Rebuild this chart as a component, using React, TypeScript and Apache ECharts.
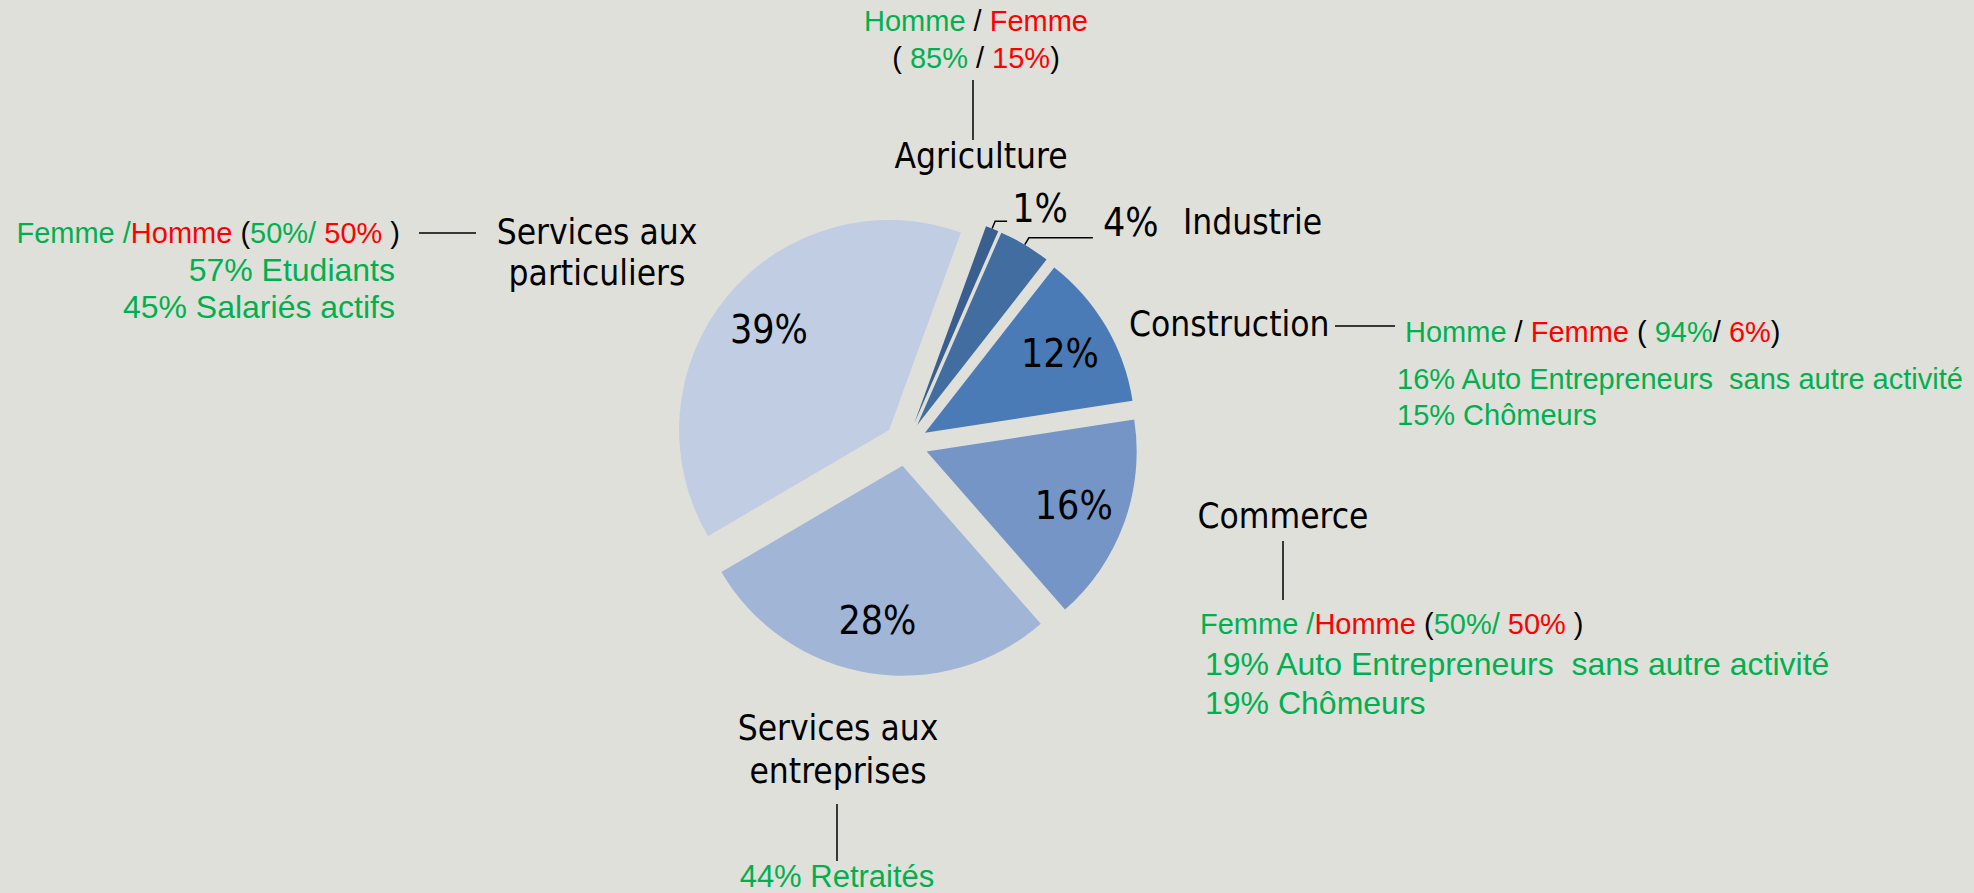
import React, { useEffect, useRef } from 'react';
import * as echarts from 'echarts';

// ---- data ----
const categories = [
  'Agriculture',
  'Industrie',
  'Construction',
  'Commerce',
  'Services aux entreprises',
  'Services aux particuliers',
];
const shares = [1, 4, 12, 16, 28, 39];
const outsideLabelled = [true, true, false, false, false, false];

// ---- styles ----
const palette = ['#3a5e8e', '#426da0', '#4a7bb6', '#7495c6', '#a1b5d7', '#c1cde2'];
const GREEN = '#00b050';
const RED = '#ff0000';
const BLACK = '#000000';
const ARIAL = '"Liberation Sans", Arial, sans-serif';
const TAHOMA = '"DejaVu Sans Condensed", "DejaVu Sans", sans-serif';

const rich = (size: number) => ({
  g: { fill: GREEN, fontSize: size, fontFamily: ARIAL },
  r: { fill: RED, fontSize: size, fontFamily: ARIAL },
  k: { fill: BLACK, fontSize: size, fontFamily: ARIAL },
});

function note(text: string, x: number, y: number, size: number, align: string) {
  return {
    type: 'text',
    x,
    y,
    silent: true,
    style: {
      text,
      fontSize: size,
      fontFamily: ARIAL,
      fill: BLACK,
      align,
      verticalAlign: 'middle',
      rich: rich(size),
    },
  };
}

function title(text: string, x: number, y: number, align: string) {
  return {
    type: 'text',
    x,
    y,
    silent: true,
    style: {
      text,
      fontSize: 35,
      fontFamily: TAHOMA,
      fill: BLACK,
      align,
      verticalAlign: 'middle',
    },
  };
}

function rule(x1: number, y1: number, x2: number, y2: number) {
  return {
    type: 'line',
    silent: true,
    shape: { x1, y1, x2, y2 },
    style: { stroke: BLACK, lineWidth: 1.5 },
  };
}

export default function App() {
  const ref = useRef<HTMLDivElement>(null);

  useEffect(() => {
    if (!ref.current) return;
    const chart = echarts.init(ref.current, undefined, { renderer: 'svg' });

    const baseSeries = {
      type: 'pie',
      center: [906, 444],
      startAngle: 70,
      clockwise: true,
      selectedMode: 'multiple',
      selectedOffset: 22,
      avoidLabelOverlap: false,
      emphasis: { disabled: true },
    };

    chart.setOption({
      animation: false,
      backgroundColor: '#e0e0da',
      series: [
        {
          ...baseSeries,
          radius: [0, 210],
          label: { show: false },
          labelLine: { show: false },
          itemStyle: { borderWidth: 0 },
          data: categories.map((name, i) => ({
            name,
            value: shares[i],
            selected: true,
            itemStyle: { color: palette[i] },
          })),
        },
        {
          ...baseSeries,
          radius: [97, 210],
          z: 3,
          itemStyle: { color: 'rgba(0,0,0,0)', borderWidth: 0 },
          label: {
            show: true,
            position: 'inside',
            formatter: '{c}%',
            fontSize: 39,
            fontFamily: TAHOMA,
            color: BLACK,
          },
          labelLine: { show: false },
          data: categories.map((name, i) => {
            const item: any = { name, value: shares[i], selected: true };
            if (outsideLabelled[i]) {
              item.label = {
                position: 'outside',
                formatter: '{c}%\n ',
                lineHeight: i === 0 ? 26 : 30,
                distanceToLabelLine: i === 0 ? 5 : 10,
              };
              item.labelLine = {
                show: true,
                length: 8,
                length2: i === 0 ? 12 : 64,
                smooth: false,
                lineStyle: { color: BLACK, width: 1.5 },
              };
            }
            return item;
          }),
        },
      ],
      graphic: [
        // Agriculture
        note('{g|Homme} / {r|Femme}', 976, 21, 29, 'center'),
        note('( {g|85%} / {r|15%})', 976, 58, 29, 'center'),
        rule(973, 80, 973, 140),
        title('Agriculture', 981, 156, 'center'),
        // Industrie
        title('Industrie', 1183, 222, 'left'),
        // Services aux particuliers
        note('{g|Femme /}{r|Homme} ({g|50%/} {r|50%} )', 400, 233, 29, 'right'),
        note('{g|57% Etudiants}', 395, 270, 32, 'right'),
        note('{g|45% Salariés actifs}', 395, 307, 32, 'right'),
        rule(419, 233, 476, 233),
        title('Services aux', 597, 232, 'center'),
        title('particuliers', 597, 273, 'center'),
        // Construction
        title('Construction', 1129, 324, 'left'),
        rule(1335, 326, 1395, 326),
        note('{g|Homme} / {r|Femme} ( {g|94%}/ {r|6%})', 1405, 332, 29, 'left'),
        note('{g|16% Auto Entrepreneurs  sans autre activité}', 1397, 379, 29, 'left'),
        note('{g|15% Chômeurs}', 1397, 415, 29, 'left'),
        // Commerce
        title('Commerce', 1283, 516, 'center'),
        rule(1283, 541, 1283, 600),
        note('{g|Femme /}{r|Homme} ({g|50%/} {r|50%} )', 1200, 624, 29, 'left'),
        note('{g|19% Auto Entrepreneurs  sans autre activité}', 1205, 664, 32, 'left'),
        note('{g|19% Chômeurs}', 1205, 703, 32, 'left'),
        // Services aux entreprises
        title('Services aux', 838, 728, 'center'),
        title('entreprises', 838, 771, 'center'),
        rule(837, 804, 837, 861),
        note('{g|44% Retraités}', 837, 876, 31, 'center'),
      ],
    });

    return () => chart.dispose();
  }, []);

  return (
    <div
      ref={ref}
      style={{ position: 'absolute', left: 0, top: 0, width: 1974, height: 893 }}
    />
  );
}
